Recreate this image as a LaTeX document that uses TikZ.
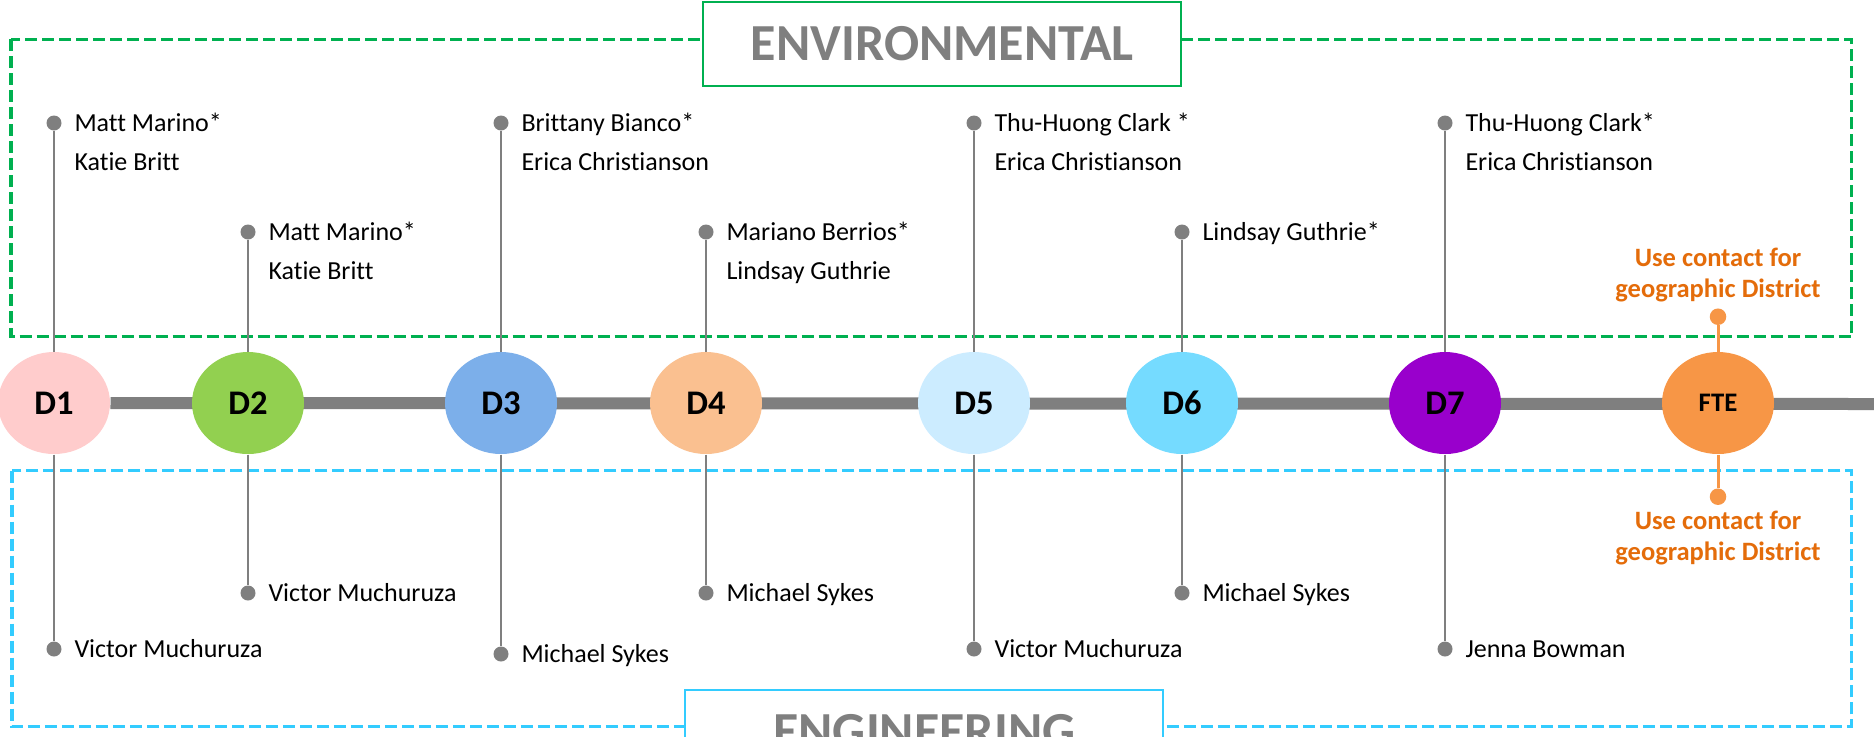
\documentclass[tikz,border=0pt]{standalone}
\usepackage{fontspec}
\setmainfont{Carlito}[Ligatures=CommonOff]
\usetikzlibrary{positioning}
\usetikzlibrary{calc,shapes.geometric,backgrounds}
\definecolor{envgreen}{HTML}{00B050}
\definecolor{engblue}{HTML}{33CCFF}
\definecolor{linegray}{HTML}{7F7F7F}
\definecolor{fteorange}{HTML}{F79646}
\definecolor{notecol}{HTML}{E46C0A}
\definecolor{dacol}{HTML}{FFCCCC}
\definecolor{dbcol}{HTML}{92D050}
\definecolor{dccol}{HTML}{7CAFEA}
\definecolor{ddcol}{HTML}{FAC090}
\definecolor{decol}{HTML}{CCECFF}
\definecolor{dfcol}{HTML}{75DBFF}
\definecolor{dgcol}{HTML}{9900CC}
\tikzset{
  every node/.style={
    align=center,
    draw=none,
    inner sep=0pt,
  },
  district/.style={ellipse, minimum width=44.8pt, minimum height=40.8pt,
    font=\fontsize{13.8}{16}\selectfont\bfseries},
  pin/.style={circle, fill=linegray, minimum size=6pt},
  stem/.style={draw=linegray, line width=0.9pt},
  names/.style={align=left, anchor=base west, font=\fontsize{10.4}{15.5}\selectfont},
  timeline/.style={draw=linegray, line width=4.8pt},
  frame/.style={line width=1.3pt, dash pattern=on 4.8pt off 2pt},
  titlebox/.style={fill=white, line width=0.8pt, minimum width=191.2pt,
    minimum height=33.6pt, text=linegray, font=\fontsize{20.8}{24}\selectfont\bfseries},
  ftenote/.style={text=notecol, font=\fontsize{10.6}{12.4}\selectfont\bfseries},
}

\begin{document}
\begin{tikzpicture}[x=0.4pt, y=-0.4pt]
    \useasboundingbox (0,0) rectangle (1874,736);
    \clip (0,0) rectangle (1874,736);
    \draw[frame, envgreen] (11,39.3) rectangle (1851.5,336.7);
    \draw[frame, engblue] (12,470.5) rectangle (1851.5,726.7);
    \node[titlebox, draw=envgreen] (envtitle) at (942.3,44) {ENVIRONMENTAL};
    \node[titlebox, draw=engblue] (engtitle) at (924.3,731.5) {ENGINEERING};
    \foreach \n/\x/\col/\uy/\ush/\utxt/\ly/\ltxt in {
      1/54/dacol/123/38.75/{Matt Marino*\\Katie Britt}/649/{Victor Muchuruza},
      2/248/dbcol/232/38.75/{Matt Marino*\\Katie Britt}/593/{Victor Muchuruza},
      3/501/dccol/123/38.75/{Brittany Bianco*\\Erica Christianson}/654/{Michael Sykes},
      4/706/ddcol/232/38.75/{Mariano Berrios*\\Lindsay Guthrie}/593/{Michael Sykes},
      5/974/decol/123/38.75/{Thu-Huong Clark *\\Erica Christianson}/649/{Victor Muchuruza},
      6/1182/dfcol/232/0/{Lindsay Guthrie*}/593/{Michael Sykes},
      7/1445/dgcol/123/38.75/{Thu-Huong Clark*\\Erica Christianson}/649/{Jenna Bowman}}
    {
      \node[district, fill=\col] (d\n) at (\x,403) {D\n};
      \node[pin] (up\n) at (\x,\uy) {};
      \node[pin] (low\n) at (\x,\ly) {};
      \draw[stem] (up\n) -- (d\n);
      \draw[stem] (d\n) -- (low\n);
      \node[names] (upnames\n) at ($(up\n)+(20,8.4+\ush)$) {\utxt};
      \node[names] (lownames\n) at ($(low\n)+(20,8.4)$) {\ltxt};
    }
    \node[district, fill=fteorange, font=\fontsize{10.7}{12}\selectfont\bfseries] (fte) at (1718,403) {FTE};
    \node[pin, fill=fteorange, minimum size=6.6pt] (fteup) at (1718,316.7) {};
    \node[pin, fill=fteorange, minimum size=6.6pt] (ftelow) at (1718,496.7) {};
    \draw[stem, draw=fteorange, line width=1.2pt] (fteup) -- (fte);
    \draw[stem, draw=fteorange, line width=1.2pt] (fte) -- (ftelow);
    \node[ftenote] (ftenoteup) at ($(fteup)+(0,-41.7)$) {Use contact for\\geographic District};
    \node[ftenote] (ftenotelow) at ($(ftelow)+(0,41.8)$) {Use contact for\\geographic District};
    \coordinate (tlend) at (1874,404);
    \begin{scope}[on background layer]
      \fill[white] (0,0) rectangle (1874,736);
      \draw[timeline] (d1) -- (tlend);
    \end{scope}
  \end{tikzpicture}
\end{document}
